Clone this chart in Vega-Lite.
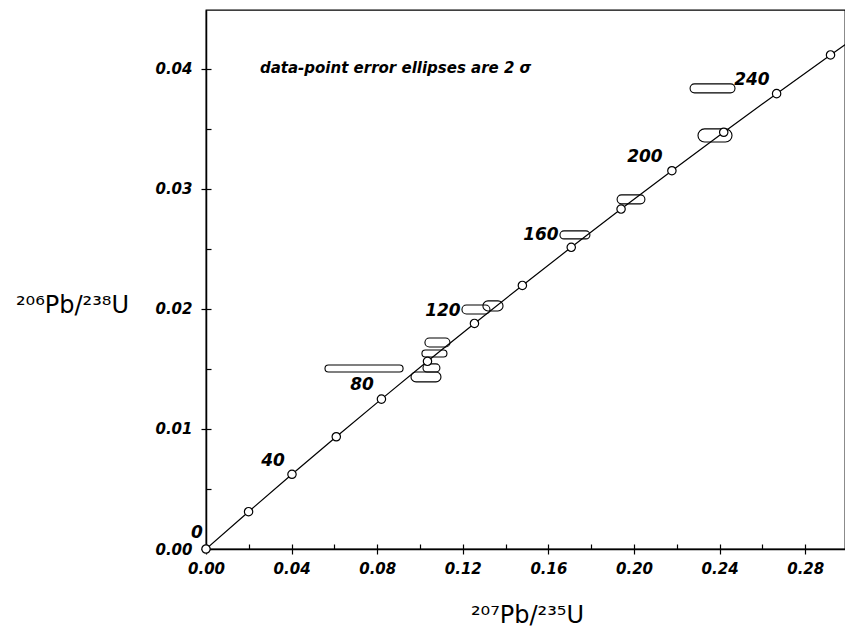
{
  "$schema": "https://vega.github.io/schema/vega-lite/v6.json",
  "width": 639,
  "height": 539,
  "autosize": "none",
  "padding": {"left": 206, "top": 10, "right": 0, "bottom": 80},
  "background": "white",
  "config": {
    "view": {"stroke": "black", "strokeWidth": 1.3},
    "axis": {"grid": false, "domainColor": "black", "tickColor": "black", "labelColor": "black", "titleColor": "black"}
  },
  "datasets": {
    "concordia": [
      {"t": 0, "r75": 0, "r68": 0},
      {"t": 20, "r75": 0.019892, "r68": 0.0031073},
      {"t": 40, "r75": 0.040180, "r68": 0.0062243},
      {"t": 60, "r75": 0.060872, "r68": 0.0093510},
      {"t": 80, "r75": 0.081975, "r68": 0.0124873},
      {"t": 100, "r75": 0.103498, "r68": 0.0156334},
      {"t": 120, "r75": 0.125449, "r68": 0.0187893},
      {"t": 140, "r75": 0.147837, "r68": 0.0219550},
      {"t": 160, "r75": 0.170670, "r68": 0.0251306},
      {"t": 180, "r75": 0.193957, "r68": 0.0283160},
      {"t": 200, "r75": 0.217708, "r68": 0.0315113},
      {"t": 220, "r75": 0.241932, "r68": 0.0347165},
      {"t": 240, "r75": 0.266637, "r68": 0.0379317},
      {"t": 260, "r75": 0.291834, "r68": 0.0411569},
      {"t": 270, "r75": 0.304619, "r68": 0.0427733}
    ],
    "ellipses": [
      {"x_lo": 0.0556, "x_hi": 0.0921, "y_lo": 0.01475, "y_hi": 0.01533},
      {"x_lo": 0.0958, "x_hi": 0.1098, "y_lo": 0.01392, "y_hi": 0.01475},
      {"x_lo": 0.1014, "x_hi": 0.1093, "y_lo": 0.01475, "y_hi": 0.01542},
      {"x_lo": 0.1009, "x_hi": 0.1126, "y_lo": 0.01600, "y_hi": 0.01658},
      {"x_lo": 0.1023, "x_hi": 0.1140, "y_lo": 0.01683, "y_hi": 0.01758},
      {"x_lo": 0.1196, "x_hi": 0.1327, "y_lo": 0.01958, "y_hi": 0.02033},
      {"x_lo": 0.1294, "x_hi": 0.1388, "y_lo": 0.01983, "y_hi": 0.02067},
      {"x_lo": 0.1654, "x_hi": 0.1794, "y_lo": 0.02583, "y_hi": 0.02650},
      {"x_lo": 0.1921, "x_hi": 0.2051, "y_lo": 0.02875, "y_hi": 0.02950},
      {"x_lo": 0.2299, "x_hi": 0.2458, "y_lo": 0.03390, "y_hi": 0.03500},
      {"x_lo": 0.2262, "x_hi": 0.2472, "y_lo": 0.03800, "y_hi": 0.03875}
    ],
    "agelabels": [
      {"label": "0", "lx": -0.0042, "ly": 0.00133},
      {"label": "40", "lx": 0.0313, "ly": 0.00733},
      {"label": "80", "lx": 0.0729, "ly": 0.01367},
      {"label": "120", "lx": 0.1107, "ly": 0.01983},
      {"label": "160", "lx": 0.1565, "ly": 0.02617},
      {"label": "200", "lx": 0.2051, "ly": 0.03267},
      {"label": "240", "lx": 0.2551, "ly": 0.03908}
    ],
    "note": [
      {"text": "data-point error ellipses are 2 σ", "nx": 0.0252, "ny": 0.04008}
    ]
  },
  "layer": [
    {
      "data": {"name": "ellipses"},
      "mark": {"type": "rect", "filled": false, "stroke": "black", "strokeWidth": 1.1, "cornerRadius": 30},
      "encoding": {
        "x": {"field": "x_lo", "type": "quantitative",
          "scale": {"domain": [0, 0.2986], "nice": false, "zero": false},
          "axis": {"orient": "bottom", "values": [0, 0.04, 0.08, 0.12, 0.16, 0.2, 0.24, 0.28], "format": ".2f",
            "tickSize": 5, "tickWidth": 1.2, "domainWidth": 1.5, "labelFlush": false, "labelOverlap": false,
            "labelFont": "DejaVu Sans", "labelFontStyle": "italic", "labelFontWeight": "bold", "labelFontSize": 15, "labelPadding": 7,
            "title": "²⁰⁷Pb/²³⁵U", "titleFont": "DejaVu Sans", "titleFontSize": 24, "titleFontWeight": "normal",
            "titleAlign": "center", "titleBaseline": "alphabetic", "titleX": 321, "titleY": 73}},
        "x2": {"field": "x_hi"},
        "y": {"field": "y_lo", "type": "quantitative",
          "scale": {"domain": [0, 0.0449], "nice": false, "zero": false},
          "axis": {"orient": "left", "values": [0, 0.01, 0.02, 0.03, 0.04], "format": ".2f",
            "tickSize": 5, "tickWidth": 1.2, "domainWidth": 1.5, "labelFlush": false, "labelOverlap": false,
            "labelFont": "DejaVu Sans", "labelFontStyle": "italic", "labelFontWeight": "bold", "labelFontSize": 15, "labelPadding": 9,
            "title": "²⁰⁶Pb/²³⁸U", "titleFont": "DejaVu Sans", "titleFontSize": 24, "titleFontWeight": "normal",
            "titleAngle": 0, "titleAlign": "center", "titleBaseline": "middle", "titleX": -134, "titleY": 295}},
        "y2": {"field": "y_hi"}
      }
    },
    {
      "data": {"name": "concordia"},
      "mark": {"type": "line", "color": "black", "strokeWidth": 1.2, "clip": true},
      "encoding": {
        "x": {"field": "r75", "type": "quantitative",
          "axis": {"orient": "bottom", "values": [0, 0.02, 0.04, 0.06, 0.08, 0.1, 0.12, 0.14, 0.16, 0.18, 0.2, 0.22, 0.24, 0.26, 0.28],
            "tickSize": -5, "tickWidth": 1.2, "labels": false, "domain": false, "title": null}},
        "y": {"field": "r68", "type": "quantitative",
          "axis": {"orient": "left", "values": [0, 0.005, 0.01, 0.015, 0.02, 0.025, 0.03, 0.035, 0.04],
            "tickSize": -5, "tickWidth": 1.2, "labels": false, "domain": false, "title": null}},
        "order": {"field": "t", "type": "quantitative"}
      }
    },
    {
      "data": {"name": "concordia"},
      "transform": [{"filter": "datum.t <= 260"}],
      "mark": {"type": "point", "shape": "circle", "filled": true, "fill": "white", "stroke": "black", "strokeWidth": 1.2, "size": 70, "opacity": 1},
      "encoding": {
        "x": {"field": "r75", "type": "quantitative", "axis": null},
        "y": {"field": "r68", "type": "quantitative", "axis": null}
      }
    },
    {
      "data": {"name": "agelabels"},
      "mark": {"type": "text", "font": "DejaVu Sans", "fontStyle": "italic", "fontWeight": "bold", "fontSize": 17, "align": "center", "baseline": "middle", "color": "black"},
      "encoding": {
        "x": {"field": "lx", "type": "quantitative", "axis": null},
        "y": {"field": "ly", "type": "quantitative", "axis": null},
        "text": {"field": "label"}
      }
    },
    {
      "data": {"name": "note"},
      "mark": {"type": "text", "font": "DejaVu Sans", "fontStyle": "italic", "fontWeight": "bold", "fontSize": 15, "align": "left", "baseline": "middle", "color": "black"},
      "encoding": {
        "x": {"field": "nx", "type": "quantitative", "axis": null},
        "y": {"field": "ny", "type": "quantitative", "axis": null},
        "text": {"field": "text"}
      }
    }
  ],
  "resolve": {"axis": {"x": "independent", "y": "independent"}}
}
